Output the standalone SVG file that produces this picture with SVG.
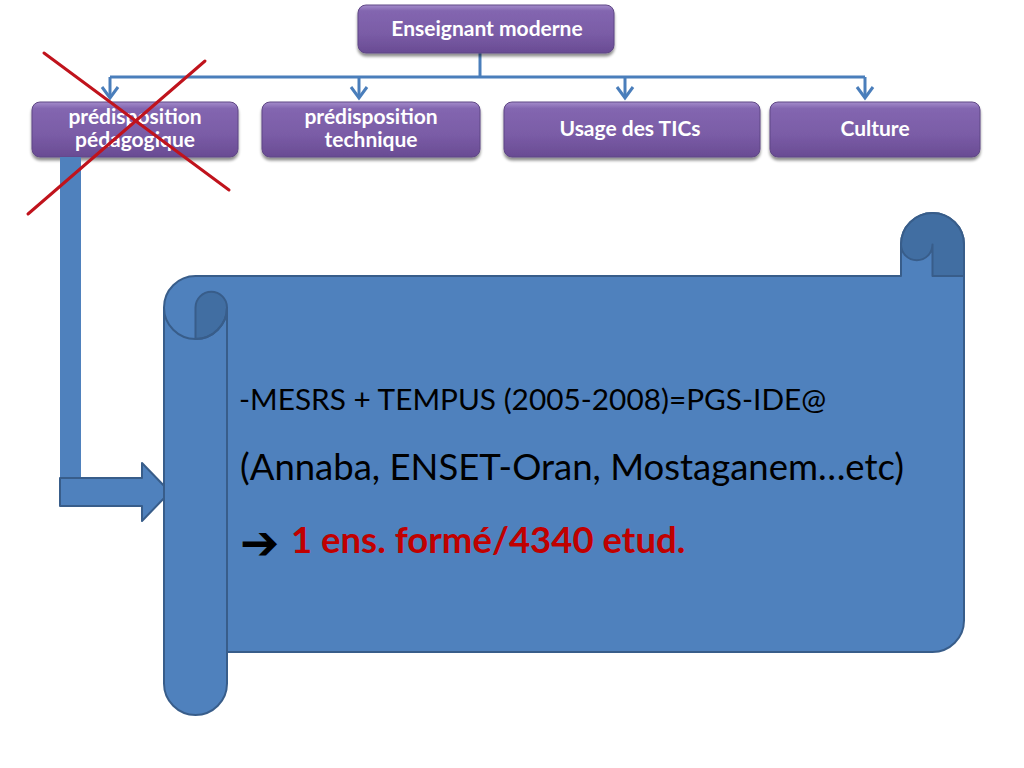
<svg xmlns="http://www.w3.org/2000/svg" width="1024" height="768" viewBox="0 0 1024 768">
  <defs>
    <linearGradient id="purple" x1="0" y1="0" x2="0" y2="1">
      <stop offset="0" stop-color="#a48ccb"/>
      <stop offset="0.12" stop-color="#8366b0"/>
      <stop offset="0.6" stop-color="#7a5ca6"/>
      <stop offset="1" stop-color="#694b93"/>
    </linearGradient>
    <filter id="shadow" x="-10%" y="-20%" width="120%" height="160%">
      <feGaussianBlur in="SourceAlpha" stdDeviation="1.5"/>
      <feOffset dx="0" dy="3" result="b"/>
      <feComponentTransfer><feFuncA type="linear" slope="0.45"/></feComponentTransfer>
      <feMerge><feMergeNode/><feMergeNode in="SourceGraphic"/></feMerge>
    </filter>
  </defs>
  <style>
    .box { fill: url(#purple); stroke: #5f4785; stroke-width: 1; filter: url(#shadow); }
    .lbl { font-family: Lato, "Liberation Sans", sans-serif; font-weight: bold; font-size: 21px; fill: #ffffff; text-anchor: middle; }
    .conn { fill: none; stroke: #4a7ebb; stroke-width: 3; }
    .chev { fill: none; stroke: #4a7ebb; stroke-width: 3; stroke-linejoin: miter; }
    .blue { fill: #4f81bd; stroke: #385d8a; stroke-width: 2; stroke-linejoin: round; }
    .dark { fill: #416ea2; stroke: #385d8a; stroke-width: 2; stroke-linejoin: round; }
    .edge { fill: none; stroke: #385d8a; stroke-width: 2; }
    .cross { stroke: #c0131c; stroke-width: 3; stroke-linecap: round; }
    .body { font-family: Lato, "Liberation Sans", sans-serif; fill: #000000; }
    .red { font-family: Lato, "Liberation Sans", sans-serif; font-weight: bold; fill: #c00000; }
    .sym { font-family: "DejaVu Sans", sans-serif; font-weight: bold; fill: #000000; }
  </style>

  <g id="connectors">
    <path class="conn" d="M480,53 V77"/>
    <path class="conn" d="M110,77 H865"/>
    <path class="conn" d="M110,77 V98"/>
    <path class="chev" d="M102,87 L110,98 L118,87"/>
    <path class="conn" d="M359,77 V98"/>
    <path class="chev" d="M351,87 L359,98 L367,87"/>
    <path class="conn" d="M625,77 V98"/>
    <path class="chev" d="M617,87 L625,98 L633,87"/>
    <path class="conn" d="M865,77 V98"/>
    <path class="chev" d="M857,87 L865,98 L873,87"/>
  </g>

  <g id="node-top">
    <rect class="box" x="358" y="5" width="256" height="48" rx="8"/>
    <text class="lbl" x="487" y="36">Enseignant moderne</text>
  </g>
  <g id="node-pedagogique">
    <rect class="box" x="32" y="102" width="206" height="55" rx="8"/>
    <text class="lbl" x="135" y="124">prédisposition</text>
    <text class="lbl" x="135" y="147">pédagogique</text>
  </g>
  <g id="node-technique">
    <rect class="box" x="262" y="102" width="218" height="55" rx="8"/>
    <text class="lbl" x="371" y="124">prédisposition</text>
    <text class="lbl" x="371" y="147">technique</text>
  </g>
  <g id="node-tics">
    <rect class="box" x="504" y="102" width="256" height="55" rx="8"/>
    <text class="lbl" x="630" y="136">Usage des TICs</text>
  </g>
  <g id="node-culture">
    <rect class="box" x="770" y="102" width="210" height="55" rx="8"/>
    <text class="lbl" x="875" y="136">Culture</text>
  </g>

  <g id="link-arrow">
    <rect x="60" y="157" width="21" height="321" fill="#4f81bd"/>
    <path class="blue" d="M60,478 H142 V463 L170,492 L142,521 V506 H60 Z"/>
  </g>

  <g id="scroll">
    <path class="blue" d="M195.5,276 H901 V244.5 A31.5,31.5 0 0 1 964,244.5 V620.5 A31.5,31.5 0 0 1 932.5,652 H227 V683.5 A31.5,31.5 0 0 1 164,683.5 V307.5 A31.5,31.5 0 0 1 195.5,276 Z"/>
    <path class="dark" d="M901,244.5 A31.5,31.5 0 0 1 964,244.5 V276 H932.5 V244.5 A15.75,15.75 0 0 1 901,244.5 Z"/>
    <path class="dark" d="M195.5,339 V307.5 A15.75,15.75 0 0 1 227,307.5 A31.5,31.5 0 0 1 195.5,339 Z"/>
    <path class="edge" d="M164,307.5 A31.5,31.5 0 0 0 227,307.5 V652"/>
    <text class="body" x="239" y="410" font-size="29.8">-MESRS + TEMPUS (2005-2008)=PGS-IDE@</text>
    <text class="body" x="240" y="480" font-size="36.5">(Annaba, ENSET-Oran, Mostaganem…etc)</text>
    <text class="sym" x="240" y="559" font-size="47">➔</text>
    <text class="red" x="291" y="553" font-size="36.5">1 ens. formé/4340 etud.</text>
  </g>

  <g id="cross">
    <line class="cross" x1="44" y1="53" x2="229" y2="190"/>
    <line class="cross" x1="205" y1="61" x2="28" y2="214"/>
  </g>
</svg>
